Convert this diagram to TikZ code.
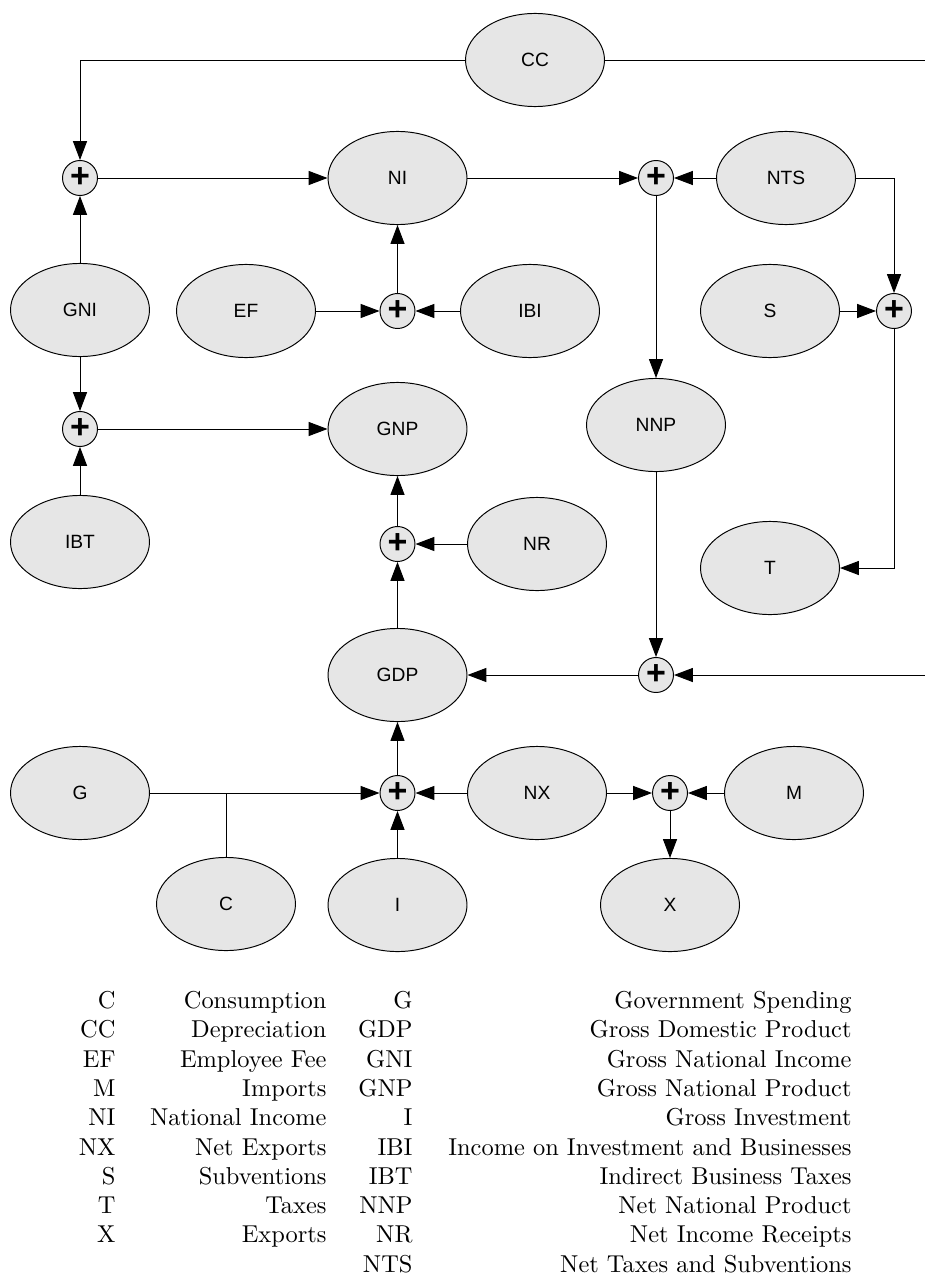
\documentclass[tikz,border=0pt]{standalone}
\usepackage{fontspec}
\newfontfamily\labfont{Liberation Sans}
\usetikzlibrary{shapes.geometric,arrows.meta}
\definecolor{nodegray}{HTML}{E6E6E6}
\begin{document}
\begin{tikzpicture}[x=0.4115pt,y=-0.4115pt,
  line width=0.4pt,
  blk/.style={ellipse,draw,fill=nodegray,minimum width=57.2pt,minimum height=38.3pt,
    inner sep=0pt,font=\labfont\fontsize{7.9}{9}\selectfont},
  sum/.style={circle,draw,fill=nodegray,minimum size=14.4pt,inner sep=0pt,
    font=\labfont\bfseries\fontsize{14}{14}\selectfont},
  flow/.style={-{Triangle[length=7.8pt,width=5.8pt]}},
  legend/.style={anchor=base east,inner sep=0pt,font=\fontsize{10.05}{12}\selectfont}]
\useasboundingbox (0,0) rectangle (925,1275);
\clip (0,0) rectangle (925,1275);

% value nodes
\node[blk] (CC)  at (535,60)    {CC};
\node[blk] (NI)  at (397.5,178) {NI};
\node[blk] (NTS) at (786,178)   {NTS};
\node[blk] (GNI) at (80,310)    {GNI};
\node[blk] (EF)  at (246,311)   {EF};
\node[blk] (IBI) at (530,311)   {IBI};
\node[blk] (S)   at (770,311)   {S};
\node[blk] (GNP) at (397.5,429) {GNP};
\node[blk] (NNP) at (656,425)   {NNP};
\node[blk] (IBT) at (80,542)    {IBT};
\node[blk] (NR)  at (537,544)   {NR};
\node[blk] (T)   at (770,568)   {T};
\node[blk] (GDP) at (397.5,675) {GDP};
\node[blk] (G)   at (80,793)    {G};
\node[blk] (NX)  at (537,793)   {NX};
\node[blk] (M)   at (794,793)   {M};
\node[blk] (C)   at (226,904)   {C};
\node[blk] (I)   at (397.5,905) {I};
\node[blk] (X)   at (670,905)   {X};

% summing junctions
\node[sum] (s1) at (80,178)    {+};
\node[sum] (s2) at (656,178)   {+};
\node[sum] (s3) at (397.5,311) {+};
\node[sum] (s4) at (894,311)   {+};
\node[sum] (s5) at (80,429)    {+};
\node[sum] (s6) at (397.5,544) {+};
\node[sum] (s7) at (656,675)   {+};
\node[sum] (s8) at (397.5,793) {+};
\node[sum] (s9) at (670,793)   {+};

\coordinate (rim) at (945,60);

% connections
\draw[flow] (CC) -| (s1);
\draw[flow] (CC) -- (rim) |- (s7);
\draw[flow] (GNI) -- (s1);
\draw[flow] (s1) -- (NI);
\draw[flow] (NI) -- (s2);
\draw[flow] (NTS) -- (s2);
\draw[flow] (NTS) -| (s4);
\draw[flow] (S) -- (s4);
\draw[flow] (s4) |- (T);
\draw[flow] (EF) -- (s3);
\draw[flow] (IBI) -- (s3);
\draw[flow] (s3) -- (NI);
\draw[flow] (GNI) -- (s5);
\draw[flow] (IBT) -- (s5);
\draw[flow] (s5) -- (GNP);
\draw[flow] (s2) -- (NNP);
\draw[flow] (NNP) -- (s7);
\draw[flow] (s7) -- (GDP);
\draw[flow] (NR) -- (s6);
\draw[flow] (GDP) -- (s6);
\draw[flow] (s6) -- (GNP);
\draw[flow] (G) -- (s8);
\draw (C) -- (C |- G);
\draw[flow] (I) -- (s8);
\draw[flow] (NX) -- (s8);
\draw[flow] (s8) -- (GDP);
\draw[flow] (NX) -- (s9);
\draw[flow] (M) -- (s9);
\draw[flow] (s9) -- (X);

% legend
\foreach \a/\b/\c/\d [count=\k from 0] in {
  C/Consumption/G/Government Spending,
  CC/Depreciation/GDP/Gross Domestic Product,
  EF/Employee Fee/GNI/Gross National Income,
  M/Imports/GNP/Gross National Product,
  NI/National Income/I/Gross Investment,
  NX/Net Exports/IBI/Income on Investment and Businesses,
  S/Subventions/IBT/Indirect Business Taxes,
  T/Taxes/NNP/Net National Product,
  X/Exports/NR/Net Income Receipts}{
  \node[legend] (la\k) at (116,1008.5+29.3*\k) {\a};
  \node[legend] (lb\k) at (327,1008.5+29.3*\k) {\b};
  \node[legend] (lc\k) at (413,1008.5+29.3*\k) {\c};
  \node[legend] (ld\k) at (852,1008.5+29.3*\k) {\d};
}
\node[legend] (lc9) at (413,1008.5+29.3*9) {NTS};
\node[legend] (ld9) at (852,1008.5+29.3*9) {Net Taxes and Subventions};
\end{tikzpicture}
\end{document}
